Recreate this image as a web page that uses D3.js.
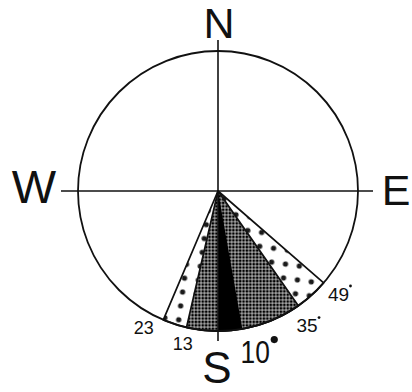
<!DOCTYPE html>
<html>
<head>
<meta charset="utf-8">
<script src="https://cdn.jsdelivr.net/npm/d3@7"></script>
<style>
	body{margin:0;background:#fff;}
	text{font-family:"Liberation Sans",Arial,sans-serif;fill:#111;}
</style>
</head>
<body>
<div id="rose"><svg></svg></div>
<script>
// degrees measured from south, west negative / east positive
var sectorNames = ["outer","middle","core"];
var sectorFrom = [-23,-13,0];
var sectorTo = [49,35,10];

var edgeLabels = ["23","13","10","35","49"];
var edgeAngles = [-23,-13,10,35,49];

var compassNames = ["N","E","S","W"];
var compassAz = [0,90,180,270];

var width = 412, height = 392;
var cx = 218, cy = 191, r = 140;

var svg = d3.select("#rose")
		.select("svg")
		.attr("width",width)
		.attr("height",height)

var toRad = d3.scaleLinear().domain([0,360]).range([0,2*Math.PI]);
function azOf(d){ return 180-d; }
function polar(az,rad){
	var a = toRad(az);
	return [cx+rad*Math.sin(a), cy-rad*Math.cos(a)];
}

var defs = svg.append("defs");
var grid = defs.append("pattern")
		.attr("id","grid")
		.attr("patternUnits","userSpaceOnUse")
		.attr("width",3.4)
		.attr("height",3.4)
grid.append("rect").attr("width",3.4).attr("height",3.4).attr("fill","#fff")
grid.append("rect").attr("x",0.35).attr("y",0.35).attr("width",2.75).attr("height",2.75).attr("fill","#000")

var stars = defs.append("pattern")
		.attr("id","stars")
		.attr("patternUnits","userSpaceOnUse")
		.attr("width",14)
		.attr("height",14)
		.attr("patternTransform","rotate(8)")
stars.append("rect").attr("width",14).attr("height",14).attr("fill","#fff")
var starPath = "M-2.6,0H2.6M0,-2.6V2.6M-1.9,-1.9L1.9,1.9M-1.9,1.9L1.9,-1.9";
stars.append("path")
		.attr("d",starPath)
		.attr("transform","translate(7,7)")
		.attr("stroke","#1a1a1a")
		.attr("stroke-width",1.9)

var fills = {outer:"url(#stars)",middle:"url(#grid)",core:"#000"};

var arc = d3.arc()
		.innerRadius(0)
		.outerRadius(r)
		.startAngle(function(d,i){ return toRad(azOf(sectorTo[i])); })
		.endAngle(function(d,i){ return toRad(azOf(sectorFrom[i])); })

svg.append("g")
		.attr("transform","translate("+cx+","+cy+")")
		.selectAll("path")
		.data(sectorNames)
		.enter()
		.append("path")
		.attr("d",arc)
		.attr("fill",function(d){ return fills[d]; })
		.attr("stroke",function(d){ return d=="core" ? "none" : "#111"; })
		.attr("stroke-width",1.7)
		.attr("stroke-linejoin","round")

svg.append("circle")
		.attr("cx",cx)
		.attr("cy",cy)
		.attr("r",r)
		.attr("fill","none")
		.attr("stroke","#111")
		.attr("stroke-width",1.8)

svg.append("line")
		.attr("x1",cx).attr("y1",cy-r-11)
		.attr("x2",cx).attr("y2",cy+r+10)
		.attr("stroke","#111").attr("stroke-width",1.6)
svg.append("line")
		.attr("x1",cx-r-17).attr("y1",cy)
		.attr("x2",cx+r+15).attr("y2",cy)
		.attr("stroke","#111").attr("stroke-width",1.6)

var compassPos = {N:[1,-153,43],E:[178,14,43],S:[-1,192,44],W:[-184,12,47]};
svg.selectAll("text.compass")
		.data(compassNames)
		.enter()
		.append("text")
		.attr("class","compass")
		.text(function(d){ return d; })
		.attr("text-anchor","middle")
		.attr("font-size",function(d){ return compassPos[d][2]; })
		.attr("x",function(d,i){
			var p = polar(compassAz[i],0);
			return p[0]+compassPos[d][0];
		})
		.attr("y",function(d){ return cy+compassPos[d][1]; })

// where the printed numbers sit relative to the edge end
var nudge = {"23":[-13,-8,18],"13":[0,0,18],"10":[10,7,31],"35":[-1,6,19],"49":[2,0,19]};
var deg = svg.selectAll("g.deg")
		.data(edgeLabels)
		.enter()
		.append("g")
		.attr("class","deg")
		.attr("transform",function(d,i){
			var p = polar(azOf(edgeAngles[i]),r+17);
			return "translate("+(p[0]+nudge[d][0])+","+(p[1]+nudge[d][1])+")";
		})
deg.append("text")
		.text(function(d){ return d; })
		.attr("text-anchor","middle")
		.attr("dominant-baseline","central")
		.attr("font-size",function(d){ return nudge[d][2]; })
		.attr("transform",function(d){ return d=="10" ? "scale(0.85,1)" : null; })
deg.filter(function(d,i){ return edgeAngles[i]>0; })
		.append("circle")
		.attr("cx",function(d){ return d=="10" ? 19 : 12; })
		.attr("cy",function(d){ return d=="10" ? -13 : -8; })
		.attr("r",function(d){ return d=="10" ? 3.6 : 1.4; })
		.attr("fill","#111")
</script>
</body>
</html>
